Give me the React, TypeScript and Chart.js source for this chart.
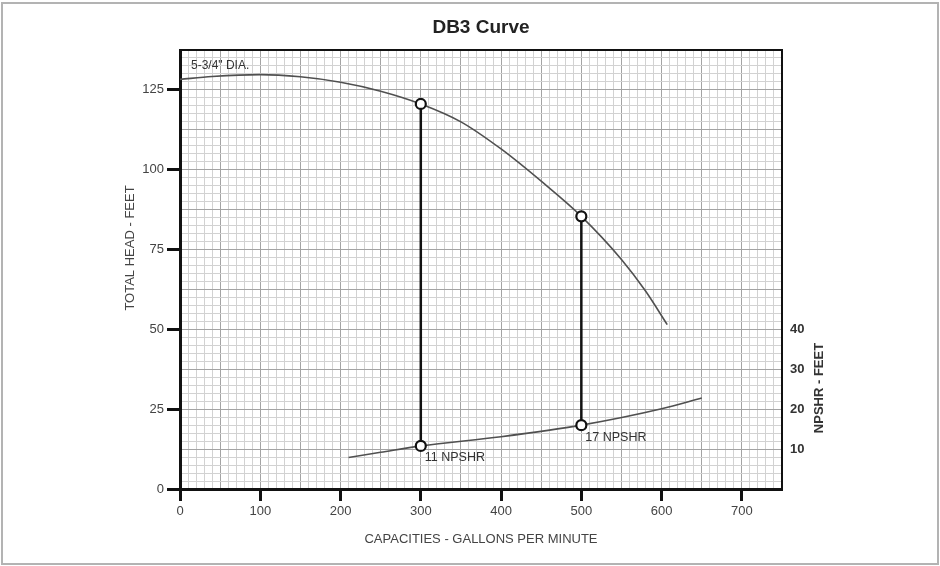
import React, { useEffect, useRef } from 'react';
import { Chart, registerables } from 'chart.js';

Chart.register(...registerables);

// ---- data ----
const HEAD_GPM = [0, 40, 100, 150, 200, 250, 300, 350, 400, 450, 500, 550, 580, 607];
const HEAD_FT = [128.3, 129.2, 129.8, 129.1, 127.4, 124.6, 120.6, 115.0, 106.5, 96.4, 85.4, 71.9, 62.0, 51.5];
const NPSHR_GPM = [210, 250, 300, 400, 500, 600, 650];
const NPSHR_FT = [7.9, 9.2, 10.8, 13.1, 16.0, 20.1, 22.8];
const DUTY_GPM = [300, 500];
const DUTY_HEAD = [120.6, 85.4];
const DUTY_NPSHR = [10.8, 16.0];
const DUTY_LABELS = ['11 NPSHR', '17 NPSHR'];
const NPSHR_TICKS = [10, 20, 30, 40];
const TITLE = 'DB3 Curve';
const CURVE_LABEL = '5-3/4" DIA.';
const X_TITLE = 'CAPACITIES - GALLONS PER MINUTE';
const Y_TITLE = 'TOTAL HEAD - FEET';
const Y2_TITLE = 'NPSHR - FEET';

const FONT = '"Liberation Sans", Arial, Helvetica, sans-serif';
const MAJOR = '#a3a3a3';
const MINOR = '#d2d2d2';

const near = (v: number, m: number) => {
  const r = Math.abs(v % m);
  return r < 1e-6 || Math.abs(r - m) < 1e-6;
};

const overlay = {
  id: 'overlay',
  beforeDraw(chart: any) {
    const { ctx, width, height } = chart;
    ctx.save();
    ctx.fillStyle = '#ffffff';
    ctx.fillRect(0, 0, width, height);
    ctx.strokeStyle = '#b3b3b3';
    ctx.lineWidth = 2;
    ctx.strokeRect(2, 3, width - 4, height - 5);
    ctx.restore();
  },
  beforeDatasetsDraw(chart: any) {
    const { ctx } = chart;
    const hm = chart.getDatasetMeta(0).data;
    const nm = chart.getDatasetMeta(1).data;
    ctx.save();
    ctx.strokeStyle = '#111';
    ctx.lineWidth = 2.5;
    for (let i = 0; i < hm.length; i++) {
      ctx.beginPath();
      ctx.moveTo(hm[i].x, hm[i].y);
      ctx.lineTo(nm[i].x, nm[i].y);
      ctx.stroke();
    }
    ctx.restore();
  },
  afterDraw(chart: any) {
    const { ctx, chartArea } = chart;
    const { left, right, top } = chartArea;
    ctx.save();
    // top border of plot
    ctx.strokeStyle = '#111';
    ctx.lineWidth = 2;
    ctx.beginPath();
    ctx.moveTo(left - 1, top);
    ctx.lineTo(right + 1, top);
    ctx.stroke();

    // title
    ctx.fillStyle = '#222';
    ctx.font = `bold 19px ${FONT}`;
    ctx.textAlign = 'center';
    ctx.textBaseline = 'middle';
    ctx.fillText(TITLE, (left + right) / 2, 28);

    // x title
    ctx.fillStyle = '#444';
    ctx.font = `13px ${FONT}`;
    ctx.fillText(X_TITLE, (left + right) / 2, 539);

    // left title
    ctx.save();
    ctx.translate(left - 50, 248);
    ctx.rotate(-Math.PI / 2);
    ctx.fillText(Y_TITLE, 0, 0);
    ctx.restore();

    // right title
    ctx.save();
    ctx.fillStyle = '#333';
    ctx.font = `bold 13px ${FONT}`;
    ctx.translate(right + 37, 388);
    ctx.rotate(-Math.PI / 2);
    ctx.fillText(Y2_TITLE, 0, 0);
    ctx.restore();

    // curve label
    ctx.fillStyle = '#333';
    ctx.font = `12px ${FONT}`;
    ctx.textAlign = 'left';
    ctx.fillText(CURVE_LABEL, left + 11, top + 16);

    // duty labels
    const nm = chart.getDatasetMeta(1).data;
    ctx.font = `12.5px ${FONT}`;
    for (let i = 0; i < nm.length; i++) {
      ctx.fillText(DUTY_LABELS[i], nm[i].x + 4, nm[i].y + 12);
    }
    ctx.restore();
  },
};

export default function App() {
  const ref = useRef<HTMLCanvasElement | null>(null);

  useEffect(() => {
    document.body.style.margin = '0';
    const canvas = ref.current;
    if (!canvas) return;

    const chart = new Chart(canvas, {
      type: 'scatter',
      data: {
        datasets: [
          {
            label: 'Duty head',
            data: DUTY_GPM.map((x, i) => ({ x, y: DUTY_HEAD[i] })),
            yAxisID: 'y',
            showLine: false,
            pointRadius: 5,
            pointBorderWidth: 2.2,
            pointBorderColor: '#111',
            pointBackgroundColor: '#fff',
          },
          {
            label: 'Duty NPSHR',
            data: DUTY_GPM.map((x, i) => ({ x, y: DUTY_NPSHR[i] })),
            yAxisID: 'y2',
            showLine: false,
            pointRadius: 5,
            pointBorderWidth: 2.2,
            pointBorderColor: '#111',
            pointBackgroundColor: '#fff',
          },
          {
            label: 'Head',
            data: HEAD_GPM.map((x, i) => ({ x, y: HEAD_FT[i] })),
            yAxisID: 'y',
            showLine: true,
            borderColor: '#505050',
            borderWidth: 1.6,
            pointRadius: 0,
            cubicInterpolationMode: 'monotone',
          },
          {
            label: 'NPSHR',
            data: NPSHR_GPM.map((x, i) => ({ x, y: NPSHR_FT[i] })),
            yAxisID: 'y2',
            showLine: true,
            borderColor: '#505050',
            borderWidth: 1.6,
            pointRadius: 0,
            cubicInterpolationMode: 'monotone',
          },
        ],
      },
      options: {
        animation: false,
        responsive: true,
        maintainAspectRatio: false,
        layout: { padding: { top: 50, left: 0, right: 0, bottom: 0 } },
        plugins: {
          legend: { display: false },
          tooltip: { enabled: false },
          title: { display: false },
        },
        events: [],
        scales: {
          x: {
            type: 'linear',
            position: 'bottom',
            min: 0,
            max: 750,
            afterFit: (s: any) => { s.height = 77; },
            ticks: {
              stepSize: 10,
              maxTicksLimit: 1000,
              autoSkip: false,
              maxRotation: 0,
              padding: 3,
              color: '#444',
              font: { family: FONT, size: 13 },
              callback: (v: any) => (near(Number(v), 100) ? String(v) : ''),
            },
            grid: {
              color: (c: any) => (c.tick && near(c.tick.value, 50) ? MAJOR : MINOR),
              lineWidth: 1,
              tickLength: 12,
              tickWidth: 3,
              tickColor: (c: any) => (c.tick && near(c.tick.value, 100) ? '#111' : 'rgba(0,0,0,0)'),
            },
            border: { display: true, color: '#111', width: 3 },
          },
          y: {
            type: 'linear',
            position: 'left',
            min: 0,
            max: 137.5,
            afterFit: (s: any) => { s.width = 180; },
            ticks: {
              stepSize: 2.5,
              maxTicksLimit: 1000,
              autoSkip: false,
              padding: 3,
              color: '#444',
              font: { family: FONT, size: 13 },
              callback: (v: any) => (near(Number(v), 25) ? String(v) : ''),
            },
            grid: {
              color: (c: any) => (c.tick && near(c.tick.value, 12.5) ? MAJOR : MINOR),
              lineWidth: 1,
              tickLength: 13,
              tickWidth: 3,
              tickColor: (c: any) => (c.tick && near(c.tick.value, 25) ? '#111' : 'rgba(0,0,0,0)'),
            },
            border: { display: true, color: '#111', width: 3 },
          },
          y2: {
            type: 'linear',
            position: 'right',
            min: 0,
            max: 110,
            afterFit: (s: any) => { s.width = 158; },
            afterBuildTicks: (s: any) => { s.ticks = NPSHR_TICKS.map((v) => ({ value: v })); },
            ticks: {
              padding: 8,
              color: '#333',
              font: { family: FONT, size: 13, weight: 'bold' },
            },
            grid: { drawOnChartArea: false, drawTicks: false },
            border: { display: true, color: '#111', width: 2 },
          },
        },
      },
      plugins: [overlay],
    } as any);

    return () => chart.destroy();
  }, []);

  return (
    <div style={{ position: 'relative', width: '940px', height: '566px' }}>
      <canvas ref={ref} />
    </div>
  );
}
